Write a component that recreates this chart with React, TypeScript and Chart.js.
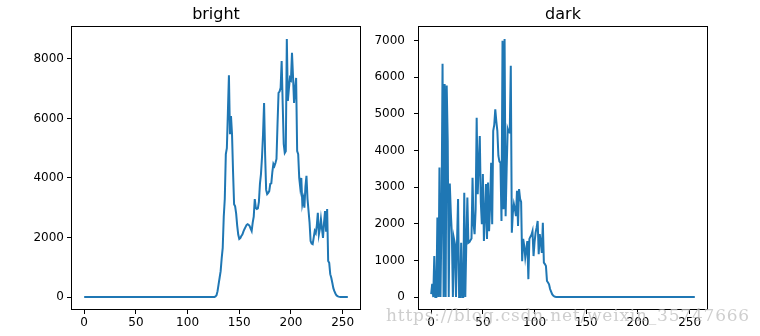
import React, { useEffect, useRef } from "react";
import { Chart, registerables } from "chart.js";

Chart.register(...registerables);

// Histogram counts per grey level (0..255)
const BRIGHT_COUNTS = [
  0, 0, 0, 0, 0, 0, 0, 0, 0, 0, 0, 0, 0, 0, 0, 0,
  0, 0, 0, 0, 0, 0, 0, 0, 0, 0, 0, 0, 0, 0, 0, 0,
  0, 0, 0, 0, 0, 0, 0, 0, 0, 0, 0, 0, 0, 0, 0, 0,
  0, 0, 0, 0, 0, 0, 0, 0, 0, 0, 0, 0, 0, 0, 0, 0,
  0, 0, 0, 0, 0, 0, 0, 0, 0, 0, 0, 0, 0, 0, 0, 0,
  0, 0, 0, 0, 0, 0, 0, 0, 0, 0, 0, 0, 0, 0, 0, 0,
  0, 0, 0, 0, 0, 0, 0, 0, 0, 0, 0, 0, 0, 0, 0, 0,
  0, 0, 0, 0, 0, 0, 0, 0, 0, 0, 0, 0, 0, 0, 5, 20,
  60, 200, 430, 650, 870, 1300, 1650, 2700, 3300, 4800, 5000, 6200, 7450, 5470, 6080, 5470,
  4200, 3120, 3050, 2800, 2400, 2100, 1950, 1980, 2050, 2100, 2200, 2280, 2350, 2420, 2450, 2430,
  2390, 2300, 2220, 2500, 2700, 3290, 3000, 2960, 2980, 3200, 3800, 4130, 4700, 5470, 6520, 4800,
  3600, 3460, 3500, 3560, 3800, 3820, 4200, 4470, 4400, 4500, 4640, 5800, 6860, 6900, 7030, 7930,
  6500, 5140, 4840, 4900, 8670, 6590, 7000, 7360, 7300, 8200, 7400, 6520, 7000, 7360, 4900, 4800,
  4000, 3670, 4000, 3120, 3300, 3000, 3700, 4070, 3300, 2900, 2500, 1880, 1800, 1780, 2000, 2220,
  2150, 2400, 2830, 2100, 2290, 2620, 2300, 1990, 2500, 2890, 2200, 2960, 1210, 1150, 770, 650,
  480, 300, 200, 120, 60, 30, 15, 8, 0, 0, 0, 0, 0, 0, 0, 0,
];

const DARK_COUNTS = [
  80, 360, 0, 1120, 0, 0, 2170, 0, 3540, 0, 2200, 6370, 0, 5820, 0, 5780,
  4270, 0, 3100, 2300, 1720, 0, 1600, 1450, 0, 1500, 2680, 0, 0, 1480, 0, 0,
  2850, 0, 1500, 2720, 1480, 1500, 1550, 1600, 3260, 2000, 1720, 2400, 4900, 2810, 3600, 4400,
  2600, 1990, 3360, 1530, 2200, 3090, 1590, 3130, 1800, 2500, 3670, 1990, 4540, 4700, 5130, 4800,
  4540, 3860, 3700, 3670, 2080, 7000, 2400, 7050, 2210, 3500, 4590, 4500, 4490, 6320, 1760, 2300,
  2540, 2400, 2210, 2900, 1940, 2950, 2680, 2600, 980, 1590, 1400, 1080, 1300, 1530, 490, 1590,
  1650, 1700, 1800, 1120, 1500, 1760, 1900, 2080, 1170, 1720, 1500, 1210, 2030, 940, 900, 850,
  440, 400, 350, 220, 150, 80, 40, 20, 10, 0, 0, 0, 0, 0, 0, 0,
  0, 0, 0, 0, 0, 0, 0, 0, 0, 0, 0, 0, 0, 0, 0, 0,
  0, 0, 0, 0, 0, 0, 0, 0, 0, 0, 0, 0, 0, 0, 0, 0,
  0, 0, 0, 0, 0, 0, 0, 0, 0, 0, 0, 0, 0, 0, 0, 0,
  0, 0, 0, 0, 0, 0, 0, 0, 0, 0, 0, 0, 0, 0, 0, 0,
  0, 0, 0, 0, 0, 0, 0, 0, 0, 0, 0, 0, 0, 0, 0, 0,
  0, 0, 0, 0, 0, 0, 0, 0, 0, 0, 0, 0, 0, 0, 0, 0,
  0, 0, 0, 0, 0, 0, 0, 0, 0, 0, 0, 0, 0, 0, 0, 0,
  0, 0, 0, 0, 0, 0, 0, 0, 0, 0, 0, 0, 0, 0, 0, 0,
];

const X_TICKS = [0, 50, 100, 150, 200, 250];
const BRIGHT_Y_TICKS = [0, 2000, 4000, 6000, 8000];
const DARK_Y_TICKS = [0, 1000, 2000, 3000, 4000, 5000, 6000, 7000];
const TITLES = ["bright", "dark"];
const WATERMARK = "https://blog.csdn.net/weixin_35747666";

const FONT = "'DejaVu Sans', sans-serif";

const framePlugin = {
  id: "frame",
  afterDraw(chart: any, _args: any, opts: any) {
    const { ctx, chartArea } = chart;
    const l = Math.round(chartArea.left) + 0.5;
    const t = Math.round(chartArea.top) + 0.5;
    const r = Math.round(chartArea.right) - 0.5;
    const b = Math.round(chartArea.bottom) - 0.5;
    ctx.save();
    ctx.strokeStyle = "#000";
    ctx.lineWidth = 1;
    ctx.strokeRect(l, t, r - l, b - t);
    if (opts && opts.text) {
      ctx.fillStyle = "#000";
      ctx.font = "16px 'DejaVu Sans', sans-serif";
      ctx.textAlign = "center";
      ctx.textBaseline = "alphabetic";
      ctx.fillText(opts.text, (chartArea.left + chartArea.right) / 2, 19);
    }
    ctx.restore();
  },
};

type PanelProps = {
  title: string;
  values: number[];
  yTicks: number[];
  yMin: number;
  yMax: number;
  left: number;
  width: number;
  axisWidth: number;
  padRight: number;
  yPad: number;
};

function Panel(p: PanelProps) {
  const ref = useRef<HTMLCanvasElement | null>(null);
  useEffect(() => {
    if (!ref.current) return;
    const chart = new Chart(ref.current, {
      type: "line",
      data: {
        datasets: [
          {
            data: p.values.map((v, i) => ({ x: i, y: v })),
            borderColor: "#1f77b4",
            borderWidth: 2,
            pointRadius: 0,
            tension: 0,
            fill: false,
          },
        ],
      },
      options: {
        animation: false,
        responsive: false,
        maintainAspectRatio: false,
        layout: { padding: { left: 0, right: p.padRight, top: 26, bottom: 0 } },
        plugins: {
          legend: { display: false },
          tooltip: { enabled: false },
          title: { display: false },
          frame: { text: p.title },
        },
        scales: {
          x: {
            type: "linear",
            min: -12.75,
            max: 267.75,
            afterBuildTicks: (s: any) => {
              s.ticks = X_TICKS.map((v) => ({ value: v }));
            },
            afterFit: (s: any) => {
              s.height = 26;
            },
            grid: { drawOnChartArea: false, drawTicks: true, tickLength: 4, color: "#000" },
            border: { display: false },
            ticks: {
              color: "#000",
              font: { family: FONT, size: 12 },
              padding: 2,
              maxRotation: 0,
              autoSkip: false,
              callback: (v: any) => String(v),
            },
          },
          y: {
            type: "linear",
            min: p.yMin,
            max: p.yMax,
            afterBuildTicks: (s: any) => {
              s.ticks = p.yTicks.map((v) => ({ value: v }));
            },
            afterFit: (s: any) => {
              s.width = p.axisWidth;
            },
            grid: { drawOnChartArea: false, drawTicks: true, tickLength: 4, color: "#000" },
            border: { display: false },
            ticks: {
              color: "#000",
              font: { family: FONT, size: 12 },
              padding: p.yPad,
              autoSkip: false,
              callback: (v: any) => String(v),
            },
          },
        },
      },
      plugins: [framePlugin],
    } as any);
    return () => chart.destroy();
  }, []);
  return (
    <canvas
      ref={ref}
      width={p.width}
      height={336}
      style={{ position: "absolute", left: p.left, top: 0, width: p.width, height: 336 }}
    />
  );
}

export default function App() {
  return (
    <div
      style={{
        position: "absolute",
        left: 0,
        top: 0,
        width: 760,
        height: 336,
        background: "#fff",
        overflow: "hidden",
      }}
    >
      <Panel
        title={TITLES[0]}
        values={BRIGHT_COUNTS}
        yTicks={BRIGHT_Y_TICKS}
        yMin={-433.5}
        yMax={9103.5}
        left={0}
        width={364}
        axisWidth={71}
        padRight={3}
        yPad={3}
      />
      <Panel
        title={TITLES[1]}
        values={DARK_COUNTS}
        yTicks={DARK_Y_TICKS}
        yMin={-352.5}
        yMax={7402.5}
        left={364}
        width={396}
        axisWidth={54}
        padRight={52}
        yPad={9}
      />
      <div
        style={{
          position: "absolute",
          left: 370,
          top: 305,
          width: 380,
          textAlign: "right",
          fontFamily: "'DejaVu Serif', serif",
          fontSize: 17,
          letterSpacing: 0.8,
          color: "rgba(190,190,190,0.75)",
          whiteSpace: "nowrap",
          pointerEvents: "none",
        }}
      >
        {WATERMARK}
      </div>
    </div>
  );
}
